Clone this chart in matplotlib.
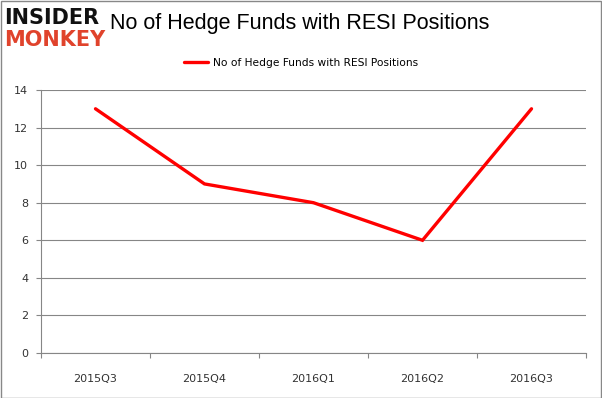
import numpy as np
import matplotlib.pyplot as plt
from matplotlib.patches import Rectangle

quarters = ['2015Q3', '2015Q4', '2016Q1', '2016Q2', '2016Q3']
funds = [13, 9, 8, 6, 13]
y_ticks = [0, 2, 4, 6, 8, 10, 12, 14]
series_name = 'No of Hedge Funds with RESI Positions'

W, H = 602, 398
fig = plt.figure(figsize=(W / 100, H / 100), dpi=100)

# plot area in pixels: x 41..586, y 90..353
ax = fig.add_axes([41 / W, (H - 353) / H, (586 - 41) / W, (353 - 90) / H])

x = np.arange(len(quarters))
ax.plot(x, funds, color='#ff0000', lw=2.4, solid_capstyle='round',
        solid_joinstyle='miter', label=series_name, zorder=3)

ax.set_xlim(-0.5, len(quarters) - 0.5)
ax.set_ylim(0, 14)
ax.set_yticks(y_ticks)
ax.set_xticks(x)
ax.set_xticklabels(quarters)
ax.set_xticks(np.arange(-0.5, len(quarters)), minor=True)

grid_c = '#868686'
ax.yaxis.grid(True, color=grid_c, lw=0.8)
ax.set_axisbelow(True)
for s in ['top', 'right']:
    ax.spines[s].set_visible(False)
for s in ['left', 'bottom']:
    ax.spines[s].set_color(grid_c)
    ax.spines[s].set_linewidth(0.8)

ax.tick_params(axis='y', length=3.3, width=0.8, color=grid_c, pad=6,
               labelsize=8, labelcolor='#333333')
ax.tick_params(axis='x', which='major', length=0, pad=15,
               labelsize=8, labelcolor='#333333')
ax.tick_params(axis='x', which='minor', length=3.3, width=0.8, color=grid_c)

# legend
fig.legend(loc='center', bbox_to_anchor=(0.5, 1 - 63 / H), frameon=False,
           fontsize=7.7, handlelength=2.2, handletextpad=0.5)

# title
fig.text(110 / W, 1 - 23 / H, series_name, fontsize=15.5,
         family='Liberation Sans', va='center', ha='left', color='black')

# logo
fig.text(4 / W, 1 - 18 / H, 'INSIDER', fontsize=15, fontweight='heavy',
         va='center', ha='left', color='#111111')
fig.text(4 / W, 1 - 40 / H, 'MONKEY', fontsize=15, fontweight='heavy',
         va='center', ha='left', color='#e0432c')

# outer frame
fig.patches.append(Rectangle((0.5 / W, 0.5 / H), 1 - 1.5 / W, 1 - 1.5 / H,
                             transform=fig.transFigure, fill=False,
                             edgecolor='#888888', lw=1))

fig.savefig('out.png', dpi=100)
